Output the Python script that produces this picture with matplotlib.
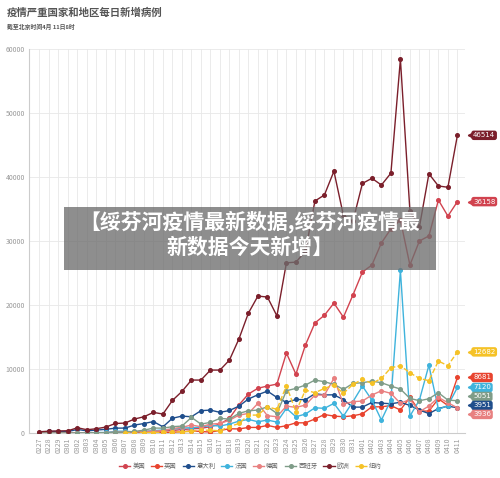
import matplotlib
matplotlib.use('Agg')
import matplotlib.pyplot as plt
import numpy as np
from matplotlib.patches import Rectangle

plt.rcParams['font.family'] = ['Noto Sans CJK SC', 'DejaVu Sans']

dates = ['0227', '0228', '0229',
         '0301', '0302', '0303', '0304', '0305', '0306', '0307', '0308', '0309', '0310',
         '0311', '0312', '0313', '0314', '0315', '0316', '0317', '0318', '0319', '0320',
         '0321', '0322', '0323', '0324', '0325', '0326', '0327', '0328', '0329', '0330',
         '0331', '0401', '0402', '0403', '0404', '0405', '0406', '0407', '0408', '0409',
         '0410', '0411']

us = [0, 1, 5, 8, 6, 22, 25, 30, 70, 80, 110, 120, 280, 320, 400, 550, 660, 730, 1000, 1400,
      2300, 4400, 6100, 7000, 7350, 7650, 12500, 9200, 13750, 17200, 18400, 20300, 18100,
      21560, 25150, 26250, 29700, 31900, 33300, 26250, 30000, 30800, 36400, 33900, 36158]
uk = [0, 3, 5, 12, 4, 11, 34, 30, 48, 43, 67, 48, 61, 74, 130, 208, 342, 250, 152, 407,
      676, 643, 880, 880, 1200, 880, 1150, 1600, 1600, 2200, 2900, 2650, 2550, 2700, 3000,
      4100, 4100, 4300, 3600, 5580, 3440, 3440, 5360, 4300, 8681]
italy = [78, 250, 238, 240, 566, 342, 466, 587, 769, 778, 1247, 1492, 1797, 977, 2313, 2651,
         2547, 3497, 3590, 3233, 3526, 4207, 5322, 5986, 6557, 5560, 4789, 5249, 5210, 6153,
         5959, 5974, 5217, 4050, 4053, 4782, 4668, 4585, 4805, 4316, 3599, 3039, 3836, 4204,
         3951]
france = [20, 20, 43, 30, 61, 13, 81, 92, 276, 296, 177, 286, 372, 495, 595, 785, 838, 924,
          1210, 1097, 1404, 1861, 2130, 1770, 2030, 1720, 3860, 2550, 2970, 3950, 3860, 4640,
          2650, 4900, 7340, 5150, 2030, 5150, 25400, 2650, 5150, 10600, 3700, 4300, 7120]
germany = [20, 30, 30, 60, 30, 40, 50, 70, 150, 150, 200, 300, 260, 400, 700, 900, 1250, 1000,
           1400, 1500, 2000, 2800, 3070, 4640, 2710, 2550, 4220, 4010, 4375, 5940, 5940, 8540,
           4530, 4900, 5000, 5940, 6610, 6200, 4640, 5260, 3330, 4220, 5580, 4740, 3936]
spain = [5, 10, 15, 30, 20, 50, 60, 50, 100, 150, 250, 450, 780, 770, 1000, 1090, 2450, 1400,
         1670, 2290, 2190, 3070, 3490, 3590, 4110, 3070, 6610, 6980, 7500, 8280, 8020, 7600,
         6820, 7760, 7860, 8125, 7860, 7340, 6875, 5420, 5050, 5360, 6300, 5150, 5051]
europe = [200, 300, 330, 360, 830, 520, 680, 940, 1500, 1560, 2190, 2550, 3230, 2970, 5100,
          6500, 8280, 8280, 9840, 9840, 11400, 14700, 18750, 21400, 21250, 18300, 26600, 26700,
          28400, 36250, 37200, 40900, 34000, 33100, 39000, 39800, 38750, 40600, 58400, 34700,
          32200, 40500, 38600, 38400, 46514]
# New York series starts at 0307
newyork = [None] * 9 + [20, 30, 50, 80, 100, 150, 200, 250, 450, 450, 350, 1000, 1500, 2810,
                        2810, 4110, 3700, 7400, 3330, 6720, 6300, 6980, 7500, 6200, 7600, 8390,
                        7760, 8540, 10200, 10520, 9420, 8540, 8180, 11250, 10520, 12682]

names = ['美国', '英国', '意大利', '法国', '德国', '西班牙', '欧洲', '纽约']
colors = ['#d1434f', '#e8432e', '#1f4e8c', '#3fb3dc', '#e88080', '#7f9c88', '#7b1f2b', '#f5c227']
series = [us, uk, italy, france, germany, spain, europe, newyork]

fig = plt.figure(figsize=(5, 4.78), dpi=100)
ax = fig.add_axes([0.058, 0.094, 0.872, 0.8035])

x = np.arange(len(dates))
for name, col, vals in zip(names, colors, series):
    y = np.array([np.nan if v is None else v for v in vals], dtype=float)
    ls = '--' if name == '纽约' else '-'
    ax.plot(x, y, color=col, lw=1.0, ls=ls, marker='o', ms=2.6, label=name, zorder=3)

ax.set_xlim(-1.1, 44.8)
ax.set_ylim(0, 60000)
ax.set_yticks(np.arange(0, 60001, 10000))
ax.set_yticklabels([str(v) for v in range(0, 60001, 10000)])
ax.set_xticks(x)
ax.set_xticklabels(dates, rotation=90)
ax.grid(color='#e8e8e8', lw=0.6, zorder=0)
for s in ['top', 'right']:
    ax.spines[s].set_visible(False)
for s in ['left', 'bottom']:
    ax.spines[s].set_color('#cccccc')
    ax.spines[s].set_linewidth(0.8)
ax.tick_params(length=0, labelsize=5, colors='#999999', pad=3)

# end labels with simple collision relaxation
finals = [(vals[-1], col) for vals, col in zip(series, colors)]
order = sorted(range(len(finals)), key=lambda i: -finals[i][0])
pos = [finals[i][0] for i in order]
gap = 1400
for _ in range(200):
    moved = False
    for k in range(len(pos) - 1):
        d = pos[k] - pos[k + 1]
        if d < gap:
            delta = (gap - d) / 2
            pos[k] += delta
            pos[k + 1] -= delta
            moved = True
    if not moved:
        break
for k, i in enumerate(order):
    val, col = finals[i]
    ly = pos[k]
    ax.plot(45.35, ly, marker='<', color=col, ms=3.2, clip_on=False, zorder=5)
    ax.text(45.65, ly, str(val), fontsize=5, color='white', va='center', ha='left',
            family='DejaVu Sans', clip_on=False, zorder=6,
            bbox=dict(boxstyle='round,pad=0.25,rounding_size=0.35', fc=col, ec='none'))

leg = fig.legend(loc='center', bbox_to_anchor=(0.5, 0.025), ncol=8, frameon=False,
                 fontsize=4.6, handlelength=1.8, columnspacing=0.9, handletextpad=0.3,
                 labelcolor='#666666')

fig.text(0.014, 0.974, '疫情严重国家和地区每日新增病例', fontsize=7.5, fontweight='bold',
         color='#555555', va='center', ha='left')
fig.text(0.014, 0.943, '截至北京时间4月 11日8时', fontsize=4.2, fontweight='bold',
         color='#555555', va='center', ha='left')

fig.add_artist(Rectangle((0.128, 0.435), 0.744, 0.132, transform=fig.transFigure,
                         fc='#6e6e6e', alpha=0.78, ec='none', zorder=10))
fig.text(0.5, 0.536, '【绥芬河疫情最新数据,绥芬河疫情最', fontsize=15, fontweight='bold',
         color='white', ha='center', va='center', zorder=11)
fig.text(0.5, 0.483, '新数据今天新增】', fontsize=15, fontweight='bold',
         color='white', ha='center', va='center', zorder=11)

fig.savefig('out.png', dpi=100)
